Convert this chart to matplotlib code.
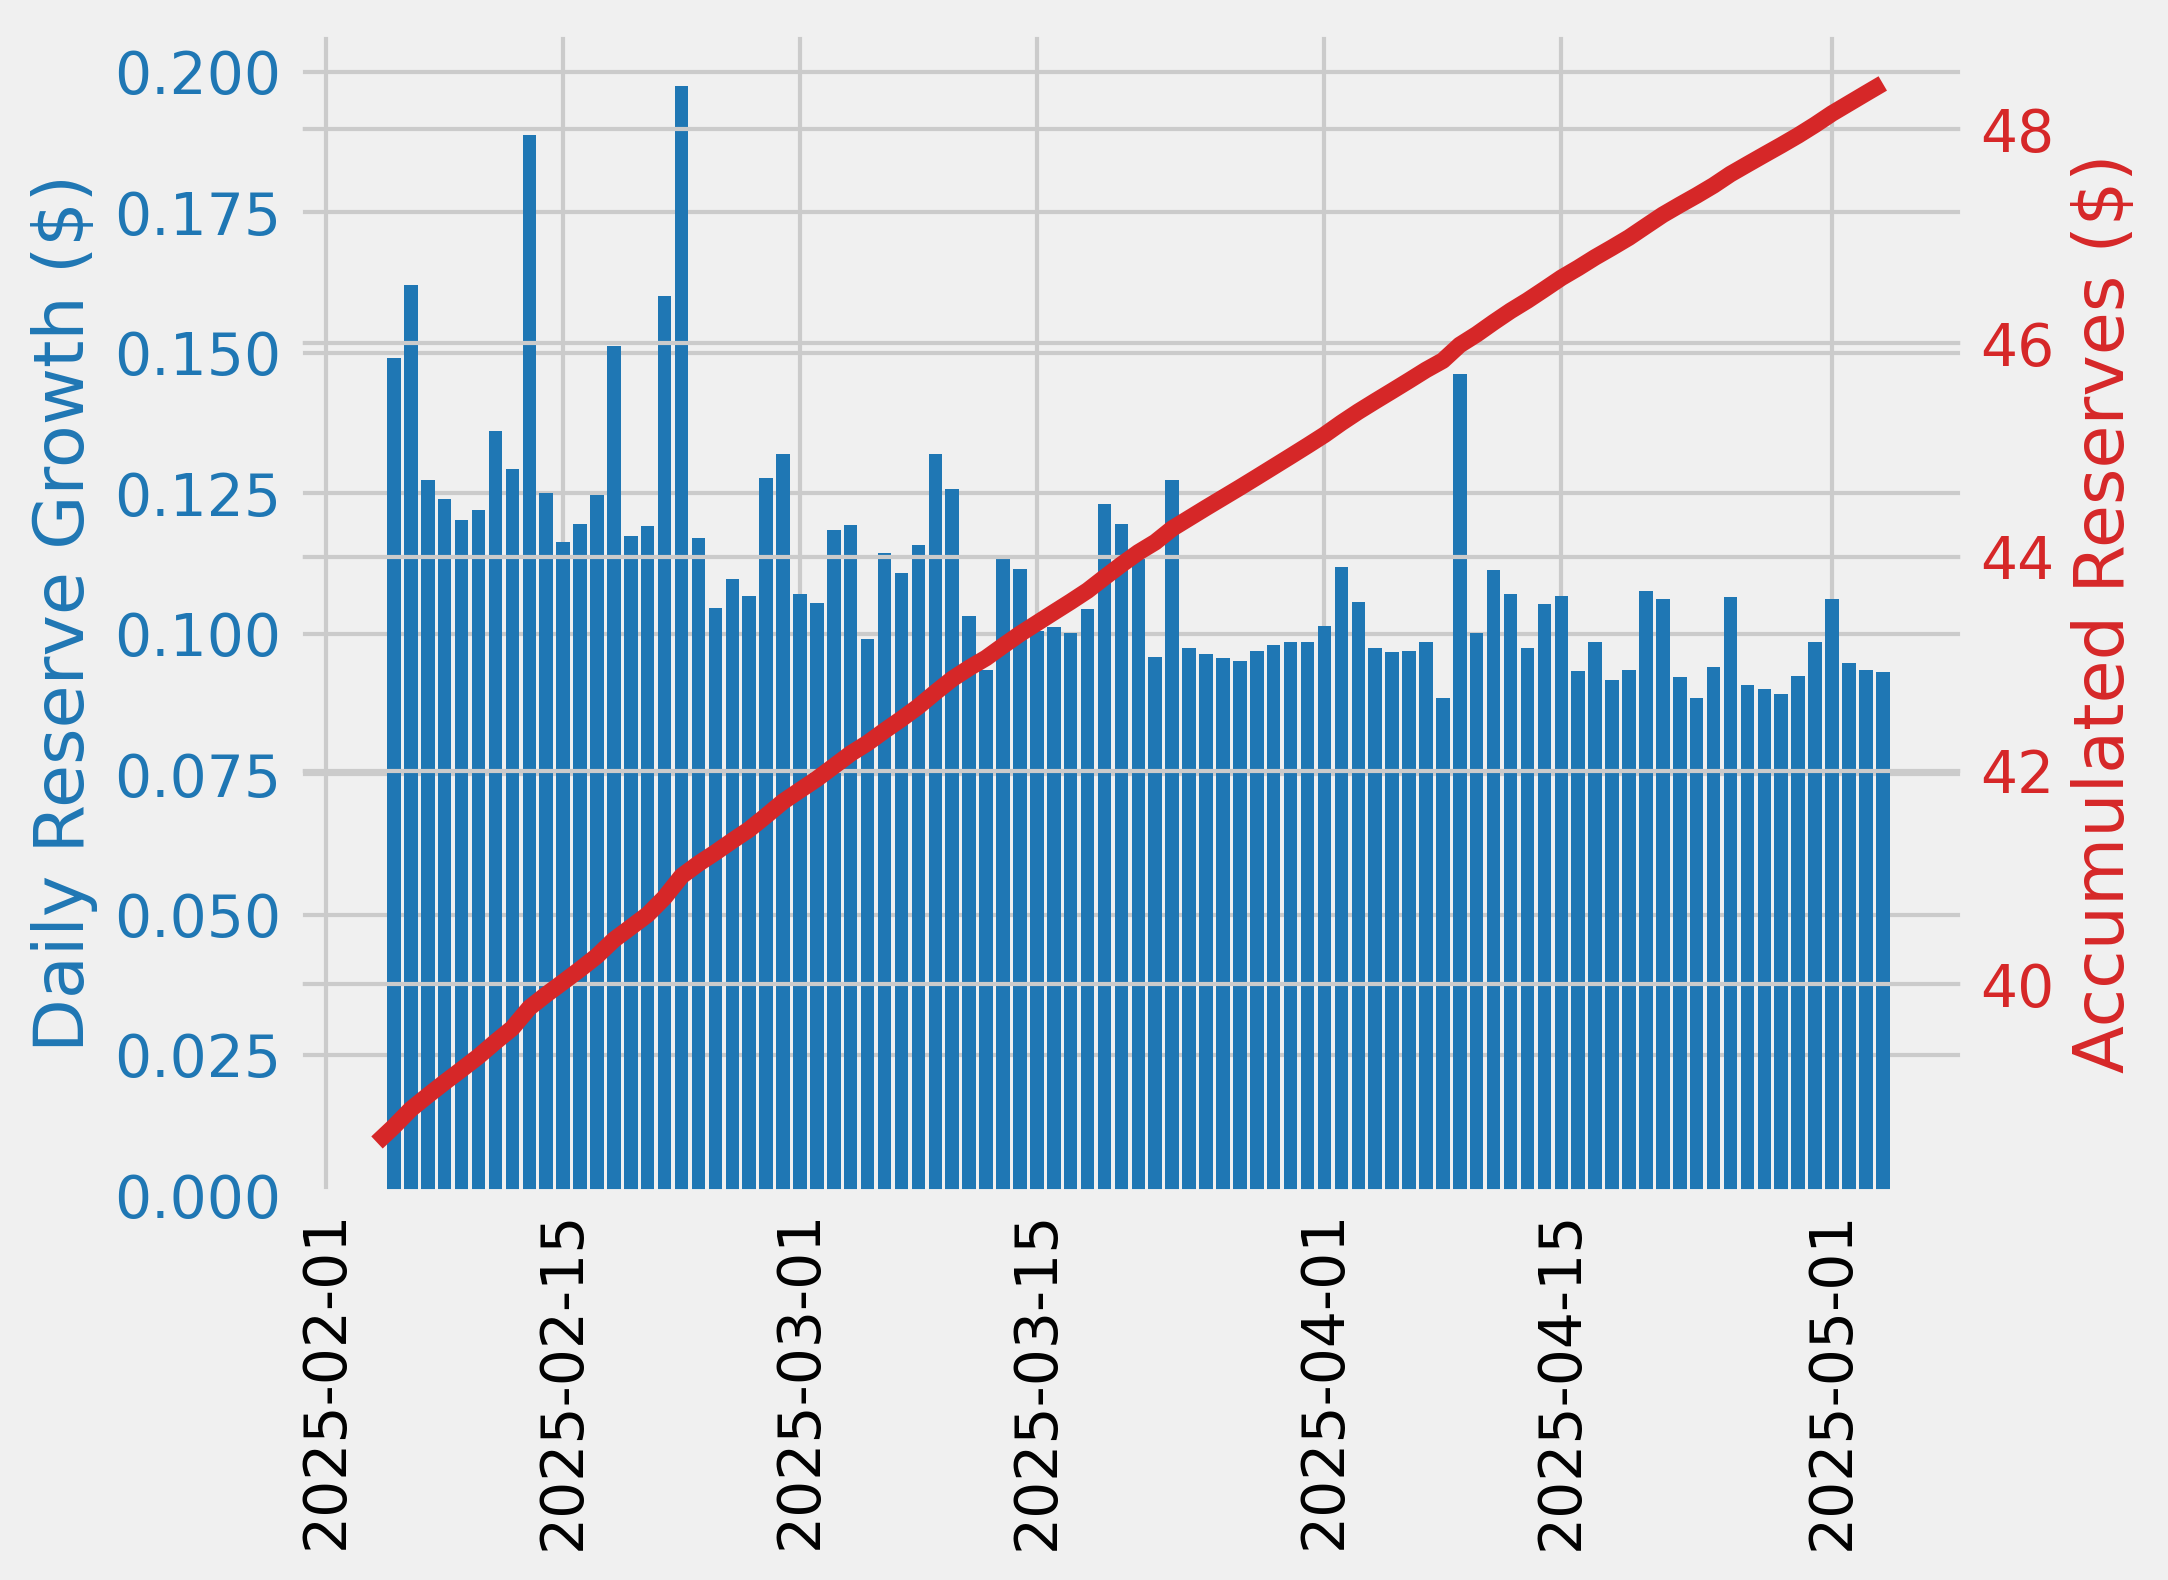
import numpy as np
import pandas as pd
import matplotlib
matplotlib.use("Agg")
import matplotlib.pyplot as plt
import matplotlib.dates as mdates

## daily reserve growth, one bar per day (2025-02-05 .. 2025-05-04)
dates = pd.date_range("2025-02-05", "2025-05-04", freq="D")
daily = [0.1490, 0.1620, 0.1273, 0.1240, 0.1203, 0.1220, 0.1360, 0.1293, 0.1888, 0.1250,
         0.1164, 0.1196, 0.1247, 0.1512, 0.1174, 0.1192, 0.1602, 0.1975, 0.1170, 0.1045,
         0.1098, 0.1067, 0.1277, 0.1320, 0.1071, 0.1055, 0.1185, 0.1194, 0.0991, 0.1143,
         0.1108, 0.1157, 0.1320, 0.1258, 0.1032, 0.0935, 0.1133, 0.1116, 0.1005, 0.1011,
         0.1002, 0.1044, 0.1231, 0.1196, 0.1145, 0.0958, 0.1273, 0.0974, 0.0964, 0.0956,
         0.0951, 0.0970, 0.0979, 0.0986, 0.0985, 0.1013, 0.1119, 0.1056, 0.0975, 0.0968,
         0.0970, 0.0986, 0.0885, 0.1463, 0.1001, 0.1114, 0.1071, 0.0975, 0.1053, 0.1067,
         0.0933, 0.0986, 0.0917, 0.0935, 0.1076, 0.1061, 0.0923, 0.0886, 0.0940, 0.1065,
         0.0908, 0.0901, 0.0892, 0.0924, 0.0986, 0.1061, 0.0947, 0.0936, 0.0931]

## accumulated reserves (starts one day before the first bar)
line_dates = pd.date_range("2025-02-04", "2025-05-04", freq="D")
accumulated = [38.520, 38.669, 38.831, 38.959, 39.083, 39.203, 39.325, 39.461, 39.590, 39.779,
               39.904, 40.021, 40.140, 40.265, 40.416, 40.534, 40.653, 40.813, 41.012, 41.129,
               41.233, 41.343, 41.449, 41.577, 41.709, 41.816, 41.922, 42.040, 42.159, 42.258,
               42.373, 42.483, 42.599, 42.731, 42.857, 42.960, 43.053, 43.167, 43.278, 43.379,
               43.480, 43.580, 43.684, 43.807, 43.927, 44.041, 44.137, 44.264, 44.361, 44.458,
               44.553, 44.648, 44.745, 44.843, 44.941, 45.040, 45.141, 45.253, 45.358, 45.456,
               45.552, 45.649, 45.748, 45.836, 45.982, 46.082, 46.194, 46.301, 46.398, 46.503,
               46.610, 46.703, 46.802, 46.893, 46.987, 47.094, 47.200, 47.292, 47.381, 47.475,
               47.581, 47.672, 47.762, 47.851, 47.943, 48.042, 48.148, 48.242, 48.336, 48.429]

bar_color = '#1f77b4'
line_color = '#d62728'

plt.style.use('fivethirtyeight')

fig = plt.figure(figsize=(2168 / 300, 1580 / 300), dpi=300)
ax1 = fig.add_axes([0.1365, 0.2434, 0.7703, 0.7373])

ax1.bar(dates, daily, color=bar_color)
ax1.set_ylabel('Daily Reserve Growth ($)', color=bar_color)
ax1.tick_params(axis='y', labelcolor=bar_color)

ax2 = ax1.twinx()
ax2.plot(line_dates, accumulated, color=line_color)
ax2.set_ylabel('Accumulated Reserves ($)', color=line_color)
ax2.tick_params(axis='y', labelcolor=line_color)

ax1.set_xlim(pd.Timestamp("2025-01-30 05:00"), pd.Timestamp("2025-05-08 22:00"))
ax1.xaxis.set_major_locator(mdates.DayLocator(bymonthday=[1, 15]))
ax1.xaxis.set_major_formatter(mdates.DateFormatter('%Y-%m-%d'))
ax1.tick_params(axis='x', labelrotation=90)

plt.savefig('out.png', dpi=300)
